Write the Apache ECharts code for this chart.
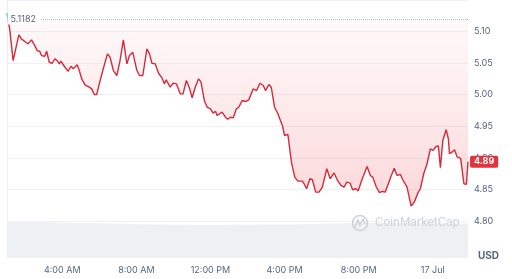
<!DOCTYPE html>
<html>
<head>
<meta charset="utf-8">
<script src="https://cdn.jsdelivr.net/npm/echarts@6/dist/echarts.min.js"></script>
<style>
html,body{margin:0;padding:0;background:#fff;}
#chart{width:512px;height:279px;}
</style>
</head>
<body>
<div id="chart"></div>
<script>
// hours counted from 00:00 on 16 Jul
const hours = [1.02,1.17,1.35,1.66,1.80,2.03,2.16,2.34,2.52,2.65,2.79,2.88,3.06,3.16,3.30,3.46,3.60,3.73,3.84,3.93,
  4.02,4.15,4.32,4.47,4.60,4.81,4.92,5.05,5.23,5.46,5.59,5.73,5.86,6.00,6.19,6.44,6.58,6.76,6.95,7.12,
  7.30,7.49,7.63,7.81,8.03,8.17,8.35,8.57,8.71,8.84,9.02,9.20,9.38,9.51,9.61,9.83,9.98,10.16,10.37,10.52,
  10.70,10.88,11.01,11.18,11.36,11.49,11.67,11.82,12.00,12.14,12.27,12.36,12.50,12.63,12.81,12.93,13.08,13.23,13.40,13.53,
  13.71,13.89,14.07,14.31,14.49,14.67,14.85,14.97,15.15,15.28,15.46,15.64,15.88,16.00,16.18,16.27,16.37,16.55,16.72,16.96,
  17.05,17.19,17.37,17.50,17.68,17.86,18.04,18.28,18.46,18.67,18.86,19.04,19.21,19.36,19.54,19.67,19.85,19.97,20.16,20.30,
  20.45,20.63,20.76,20.94,21.11,21.29,21.43,21.60,21.74,21.92,22.07,22.25,22.38,22.61,22.83,23.00,23.19,23.33,23.51,23.69,
  23.87,24.00,24.18,24.30,24.41,24.54,24.72,24.84,24.90,25.03,25.17,25.32,25.50,25.68,25.81,25.90];
const prices = [5.1290,5.1027,5.0541,5.0948,5.0884,5.0831,5.0805,5.0869,5.0778,5.0699,5.0684,5.0620,5.0609,5.0688,5.0514,5.0498,5.0568,5.0541,5.0489,5.0530,
  5.0514,5.0435,5.0372,5.0451,5.0410,5.0473,5.0383,5.0252,5.0157,5.0119,5.0093,5.0003,5.0003,5.0172,5.0383,5.0647,5.0597,5.0383,5.0304,5.0541,
  5.0869,5.0489,5.0620,5.0672,5.0383,5.0304,5.0304,5.0726,5.0647,5.0498,5.0489,5.0340,5.0267,5.0172,5.0236,5.0119,5.0182,5.0172,5.0014,5.0014,
  5.0225,5.0093,4.9951,5.0119,5.0252,5.0198,4.9908,4.9802,4.9777,4.9707,4.9739,4.9671,4.9698,4.9723,4.9644,4.9612,4.9644,4.9634,4.9777,4.9802,
  4.9908,4.9892,4.9919,5.0093,5.0066,5.0182,5.0146,5.0066,5.0161,5.0119,4.9802,4.9698,4.9513,4.9354,4.9370,4.9354,4.8932,4.8695,4.8631,4.8631,
  4.8590,4.8511,4.8669,4.8653,4.8457,4.8457,4.8536,4.8827,4.8669,4.8761,4.8642,4.8563,4.8536,4.8616,4.8600,4.8495,4.8511,4.8473,4.8642,4.8748,
  4.8864,4.8721,4.8695,4.8547,4.8452,4.8468,4.8457,4.8590,4.8706,4.8837,4.8722,4.8737,4.8653,4.8536,4.8236,4.8299,4.8441,4.8511,4.8748,4.8907,
  4.9144,4.9117,4.9180,4.9191,4.8843,4.9275,4.9445,4.9302,4.9065,4.9090,4.9128,4.9011,4.8995,4.8590,4.8579,4.8940];
const openPrice = 5.1182;

// 24h volume (millions USD)
const volHours = [1.02,3,5,7,9,11,13,15,17,19,21,23,25,25.9];
const volumes = [100,99,97,95,93,92,92,93,94,96,97,97,96,96];

const xTickHours = [4, 8, 12, 16, 20, 24];
const xTickLabels = ['4:00 AM', '8:00 AM', '12:00 PM', '4:00 PM', '8:00 PM', '17 Jul'];

const priceData = hours.map((h, i) => [h, prices[i]]);
const volData = volHours.map((h, i) => [h, volumes[i]]);
const tMin = hours[0], tMax = hours[hours.length - 1];

const UP = '#16c784', DOWN = '#d8293a';

const chart = echarts.init(document.getElementById('chart'));
chart.setOption({
  animation: false,
  backgroundColor: '#fff',
  textStyle: { fontFamily: 'Inter' },
  grid: [
    { left: 7, right: 44, top: -0.6, bottom: 58 },
    { left: 7, right: 44, top: 222, bottom: 21 }
  ],
  xAxis: [
    { type: 'value', gridIndex: 0, min: tMin, max: tMax, show: false },
    {
      type: 'value', gridIndex: 1, min: tMin, max: tMax,
      axisLine: { show: false }, axisTick: { show: false }, splitLine: { show: false },
      axisLabel: {
        customValues: xTickHours,
        formatter: v => xTickLabels[xTickHours.indexOf(v)],
        color: '#58667e', fontSize: 9, margin: 8
      }
    }
  ],
  yAxis: [
    {
      type: 'value', gridIndex: 0, position: 'right', min: 4.80, max: 5.15, interval: 0.05,
      axisLine: { show: false }, axisTick: { show: false },
      splitLine: { lineStyle: { color: '#eff2f5', width: 1 } },
      axisLabel: { showMaxLabel: false, formatter: v => v.toFixed(2), color: '#58667e', fontSize: 9, margin: 6 }
    },
    {
      type: 'value', gridIndex: 0, position: 'left', min: 4.80, max: 5.15,
      axisLine: { show: true, lineStyle: { color: '#eceef2' } },
      axisTick: { show: false }, axisLabel: { show: false }, splitLine: { show: false }
    },
    { type: 'value', gridIndex: 1, min: 0, max: 'dataMax', show: false, splitLine: { show: false } }
  ],
  series: [
    {
      id: 'price', type: 'line', xAxisIndex: 0, yAxisIndex: 0, data: priceData, symbol: 'none',
      lineStyle: { width: 1.4, color: DOWN },
      areaStyle: {
        origin: openPrice,
        color: new echarts.graphic.LinearGradient(0, 0, 0, 1, [
          { offset: 0, color: 'rgba(234,57,67,0.03)' },
          { offset: 1, color: 'rgba(234,57,67,0.28)' }
        ])
      },
      endLabel: {
        show: true, formatter: p => p.value[1].toFixed(2),
        color: '#fff', fontWeight: 'bold', fontSize: 9,
        backgroundColor: '#e1343f', padding: [2, 4, 1, 4], borderRadius: 2, distance: 2
      },
      markLine: {
        silent: true, symbol: 'none',
        data: [{ yAxis: openPrice }],
        lineStyle: { color: '#a7b1c2', type: 'dotted', width: 1 },
        label: {
          show: true, position: 'start', distance: -33,
          formatter: () => openPrice.toFixed(4),
          color: '#58667e', fontSize: 9, backgroundColor: '#fff', padding: [1, 4, 1, 3]
        }
      },
      z: 3
    },
    {
      type: 'line', xAxisIndex: 1, yAxisIndex: 2, data: volData, symbol: 'none', smooth: true,
      lineStyle: { width: 0 }, areaStyle: { color: '#eef0f4', opacity: 1 }
    }
  ],
  graphic: [
    { type: 'text', left: 478, top: 251, style: { text: 'USD', fill: '#58667e', font: 'bold 10px Inter' } },
    { type: 'circle', shape: { cx: 360, cy: 223, r: 7.5 }, style: { fill: 'none', stroke: '#cdd1d8', lineWidth: 1.5 }, z: 10 },
    { type: 'polyline', shape: { points: [[355, 227], [358, 220], [360, 225], [363, 219], [365, 224]] }, style: { fill: 'none', stroke: '#cdd1d8', lineWidth: 1.5 }, z: 10 },
    { type: 'text', left: 375, top: 217, style: { text: 'CoinMarketCap', fill: '#cdd1d8', font: '11.5px Inter' }, z: 10 }
  ]
});

// line is green above the opening price, red below it
const baseY = chart.convertToPixel({ gridIndex: 0 }, [tMin, openPrice])[1];
const h = chart.getHeight();
const cut = baseY / h;
chart.setOption({
  series: [{
    id: 'price',
    lineStyle: {
      color: new echarts.graphic.LinearGradient(0, 0, 0, h, [
        { offset: 0, color: UP }, { offset: cut, color: UP },
        { offset: cut, color: DOWN }, { offset: 1, color: DOWN }
      ], true)
    }
  }]
});
</script>
</body>
</html>
